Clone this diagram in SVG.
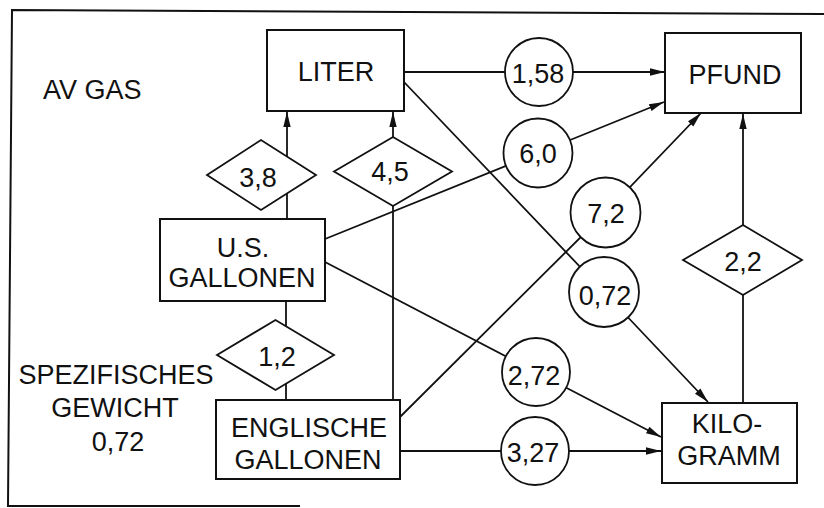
<svg xmlns="http://www.w3.org/2000/svg" width="824" height="508" viewBox="0 0 824 508">
<defs>
<style>
text{font-family:"Liberation Sans",Arial,Helvetica,sans-serif;font-size:27px;fill:#111;text-anchor:middle}
.box{fill:#fff;stroke:#111;stroke-width:2}
.lab{fill:#fff;stroke:#111;stroke-width:1.8}
.con{fill:none;stroke:#111;stroke-width:1.8}
.arr{marker-end:url(#ah)}
.frame{fill:none;stroke:#111;stroke-width:2}
</style>
<marker id="ah" markerUnits="userSpaceOnUse" markerWidth="16" markerHeight="9" refX="15" refY="4.5" orient="auto">
<path d="M0,0.8 L15,4.5 L0,8.2 Z" fill="#111"/>
</marker>
</defs>
<rect width="824" height="508" fill="#fff"/>
<path class="frame" d="M824,14 L12,10 L8,506 L300,506"/>
<text x="43" y="99" style="text-anchor:start">AV GAS</text>
<g id="note">
<text x="116" y="384">SPEZIFISCHES</text>
<text x="115" y="417">GEWICHT</text>
<text x="118" y="451">0,72</text>
</g>
<g id="connectors">
<path class="con arr" d="M404,72 L665,72"/>
<path class="con arr" d="M404,82 L604,292 L708,402"/>
<path class="con arr" d="M325,239 L538,153 L664,102"/>
<path class="con arr" d="M325,262 L536,372 L661,437"/>
<path class="con arr" d="M400,417 L605.5,212.5 L701,113"/>
<path class="con arr" d="M400,451 L661,451"/>
<path class="con arr" d="M287,219 L287,112"/>
<path class="con arr" d="M393,400 L393,112"/>
<path class="con" d="M286,301 L286,400"/>
<path class="con arr" d="M743,403 L743,114"/>
</g>
<g id="liter"><rect class="box" x="267" y="30" width="137" height="81"/><text x="336" y="81">LITER</text></g>
<g id="pfund"><rect class="box" x="665" y="33" width="136" height="80"/><text x="735" y="84">PFUND</text></g>
<g id="us-gallonen"><rect class="box" x="160" y="219" width="165" height="82"/><text x="243" y="257">U.S.</text><text x="242" y="287">GALLONEN</text></g>
<g id="englische-gallonen"><rect class="box" x="216" y="400" width="184" height="79"/><text x="309" y="437">ENGLISCHE</text><text x="308" y="469">GALLONEN</text></g>
<g id="kilogramm"><rect class="box" x="662" y="403" width="135" height="80"/><text x="727" y="433">KILO-</text><text x="729" y="465">GRAMM</text></g>
<g id="d-3-8"><polygon class="lab" points="207,175 261,140 316,175 261,210"/><text x="258" y="187">3,8</text></g>
<g id="d-4-5"><polygon class="lab" points="334,171.5 393,137 452,171.5 393,206"/><text x="390" y="181">4,5</text></g>
<g id="d-1-2"><polygon class="lab" points="217,355 275.5,320 334,355 275.5,390"/><text x="277" y="366">1,2</text></g>
<g id="d-2-2"><polygon class="lab" points="683,260 743,225 802,260 743,295"/><text x="743" y="271">2,2</text></g>
<g id="c-1-58"><circle class="lab" cx="539" cy="72" r="34"/><text x="538" y="83">1,58</text></g>
<g id="c-6-0"><circle class="lab" cx="538" cy="153" r="34.5"/><text x="538" y="163">6,0</text></g>
<g id="c-7-2"><circle class="lab" cx="605.5" cy="212.5" r="35"/><text x="606" y="223">7,2</text></g>
<g id="c-0-72"><circle class="lab" cx="604" cy="292" r="35"/><text x="605" y="305">0,72</text></g>
<g id="c-2-72"><circle class="lab" cx="536" cy="372" r="34"/><text x="534" y="385">2,72</text></g>
<g id="c-3-27"><circle class="lab" cx="535" cy="451" r="34"/><text x="533" y="462">3,27</text></g>
</svg>
